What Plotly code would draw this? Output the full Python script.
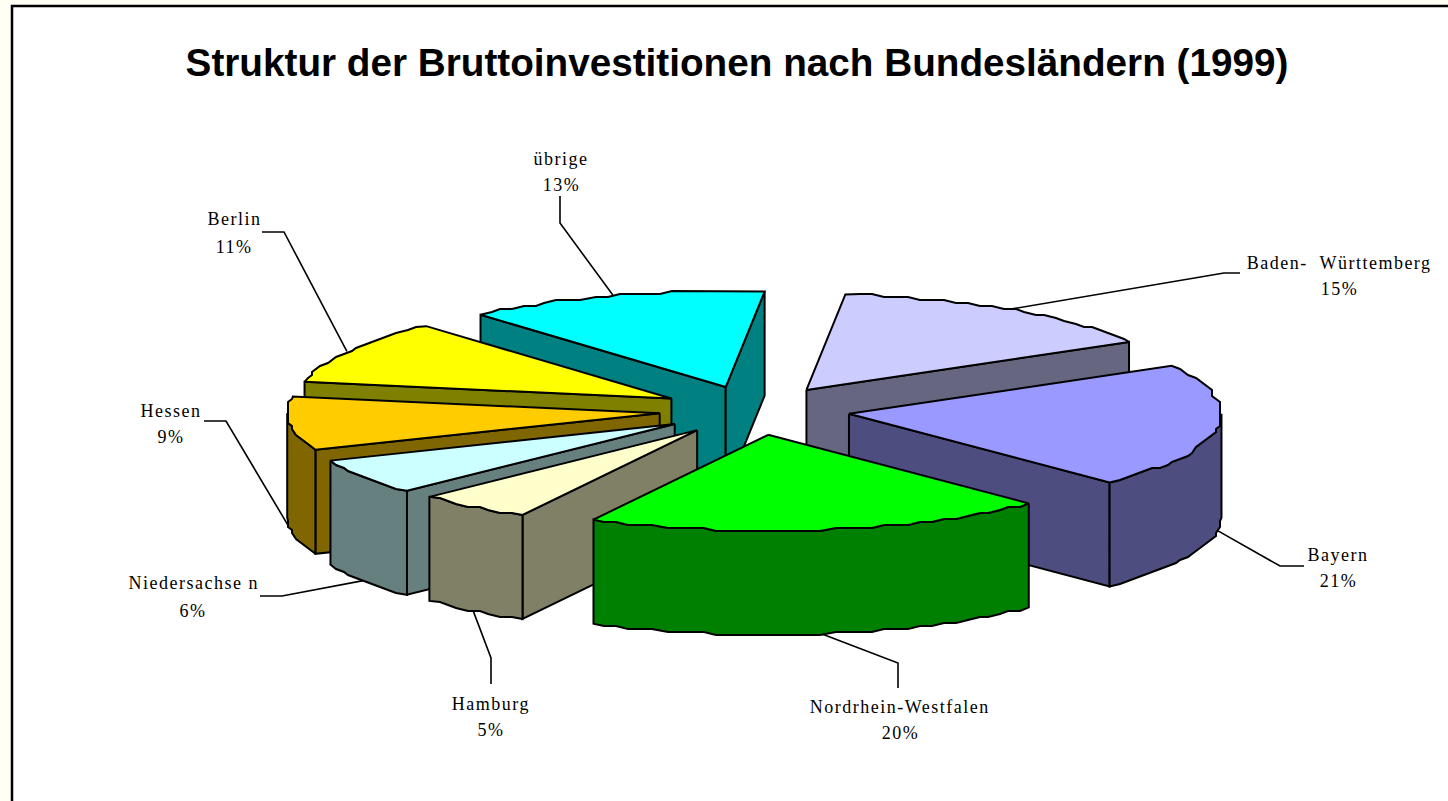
import math
import plotly.graph_objects as go

# ---------- data ----------
names = ["Baden-  Württemberg", "Bayern", "Nordrhein-Westfalen", "Hamburg",
         "Niedersachse n", "Hessen", "Berlin", "übrige"]
values = [15.0, 21.0, 20.1, 5.0, 6.0, 9.0, 10.8, 13.1]
top_colors = ["#CCCCFF", "#9999FF", "#00FF00", "#FFFFCC", "#CCFFFF", "#FFCC00", "#FFFF00", "#00FFFF"]
side_colors = ["#666680", "#4D4D80", "#008000", "#808066", "#668080", "#806600", "#808000", "#008080"]
paint_order = ["übrige", "Baden-  Württemberg", "Berlin", "Hessen", "Niedersachse n",
               "Hamburg", "Bayern", "Nordrhein-Westfalen"]
title = "Struktur der Bruttoinvestitionen nach Bundesländern (1999)"

# ---------- pie projection ----------
W, H = 1448, 801
CX, CY = 754.5, 410.5
RX, RY = 372.5, 96.0
DEPTH = 104.0
PULL = 0.256
START_DEG = 6.0

# label centres and leader elbows, in page pixels
label_pos = {
    "Baden-  Württemberg": (1339, 263, 289),
    "Bayern": (1338, 555, 581),
    "Nordrhein-Westfalen": (900, 707, 733),
    "Hamburg": (491, 704, 730),
    "Niedersachse n": (193, 583, 611),
    "Hessen": (171, 411, 437),
    "Berlin": (234, 219, 247),
    "übrige": (561, 159, 185),
}
elbows = {
    "Baden-  Württemberg": [(1224, 273), (1240, 273)],
    "Bayern": [(1280, 566), (1304, 566)],
    "Nordrhein-Westfalen": [(898, 663), (898, 688)],
    "Hamburg": [(491, 658), (491, 684)],
    "Niedersachse n": [(282, 596), (260, 596)],
    "Hessen": [(226, 421), (204, 421)],
    "Berlin": [(284, 232), (262, 232)],
    "übrige": [(560, 223), (560, 196)],
}


def direction(deg):
    t = math.radians(deg)
    return math.sin(t), -math.cos(t)


def snap(v, grid):
    return round(v / grid) * grid


def arc(apex, a0, a1, step=2.0):
    """Rim between two angles, on the coarse grid the original polygon shows."""
    n = max(2, int(abs(a1 - a0) / step))
    pts = []
    for i in range(n + 1):
        deg = a0 + (a1 - a0) * i / n
        sx, sy = direction(deg)
        x, y = apex[0] + RX * sx, apex[1] + RY * sy
        if 0 < i < n:
            x, y = snap(x, 4), snap(y, 3)
        pts.append((x, y))
    return pts


def add_poly(fig, pts, fill):
    xs = [p[0] for p in pts] + [pts[0][0]]
    ys = [p[1] for p in pts] + [pts[0][1]]
    fig.add_trace(go.Scatter(x=xs, y=ys, mode="lines", fill="toself", fillcolor=fill,
                             line=dict(color="black", width=2), hoverinfo="skip",
                             showlegend=False))


total = sum(values)
slices = {}
angle = START_DEG
for name, val, tc, sc in zip(names, values, top_colors, side_colors):
    sweep = 360.0 * val / total
    a0, a1 = angle, angle + sweep
    mid = (a0 + a1) / 2
    dx, dy = direction(mid)
    apex = (CX + PULL * RX * dx, CY + PULL * RY * dy)
    slices[name] = dict(a0=a0, a1=a1, mid=mid, apex=apex, top=tc, side=sc)
    angle = a1

fig = go.Figure()

# leader lines
for name, s in slices.items():
    dx, dy = direction(s["mid"])
    x = s["apex"][0] + RX * dx
    y = s["apex"][1] + RY * dy
    if dy > 0:
        y += DEPTH
    pts = [(x, y)] + elbows[name]
    fig.add_trace(go.Scatter(x=[p[0] for p in pts], y=[p[1] for p in pts], mode="lines",
                             line=dict(color="black", width=1.6), hoverinfo="skip",
                             showlegend=False))

# slices, back to front
for name in paint_order:
    s = slices[name]
    apex, a0, a1 = s["apex"], s["a0"], s["a1"]
    down = lambda p: (p[0], p[1] + DEPTH)
    # radial cut faces
    if math.sin(math.radians(a0)) < 0:
        e = arc(apex, a0, a0 + 0.001)[0]
        add_poly(fig, [apex, e, down(e), down(apex)], s["side"])
    if math.sin(math.radians(a1)) > 0:
        e = arc(apex, a1 - 0.001, a1)[-1]
        add_poly(fig, [apex, e, down(e), down(apex)], s["side"])
    # outer wall: front half of the rim only
    lo, hi = max(a0, 90.0), min(a1, 270.0)
    if lo < hi:
        r = arc(apex, lo, hi)
        add_poly(fig, r + [down(p) for p in reversed(r)], s["side"])
    # top face
    add_poly(fig, [apex] + arc(apex, a0, a1), s["top"])

# labels
annotations = []
for name, val in zip(names, values):
    x, y1, y2 = label_pos[name]
    for text, y in ((name, y1), (f"{round(val)}%", y2)):
        annotations.append(dict(x=x, y=y, xref="x", yref="y", text=text, showarrow=False,
                                xanchor="center", yanchor="middle",
                                font=dict(family="Liberation Serif", size=18, color="black")))

fig.update_layout(
    width=W, height=H, margin=dict(l=0, r=0, t=0, b=0),
    paper_bgcolor="#FFFFF5", plot_bgcolor="#FFFFF5",
    title=dict(text=title, x=737 / W, y=1 - 62 / H, xanchor="center", yanchor="middle",
               xref="paper", yref="paper",
               font=dict(family="Liberation Sans", size=38.7, color="black", weight=700)),
    xaxis=dict(range=[0, W], visible=False, fixedrange=True),
    yaxis=dict(range=[H, 0], visible=False, fixedrange=True),
    annotations=annotations,
    shapes=[dict(type="rect", xref="x", yref="y", x0=12, y0=6, x1=W + 20, y1=H + 20,
                 fillcolor="white", line=dict(color="black", width=2.5), layer="below")],
)

post = """
document.body.style.margin='0';
document.body.style.background='#FFFFF5';
document.querySelectorAll('.annotation-text').forEach(function(t){t.style.letterSpacing='1.5px';});
"""
fig.write_html("out.html", post_script=post, config={"displayModeBar": False})
